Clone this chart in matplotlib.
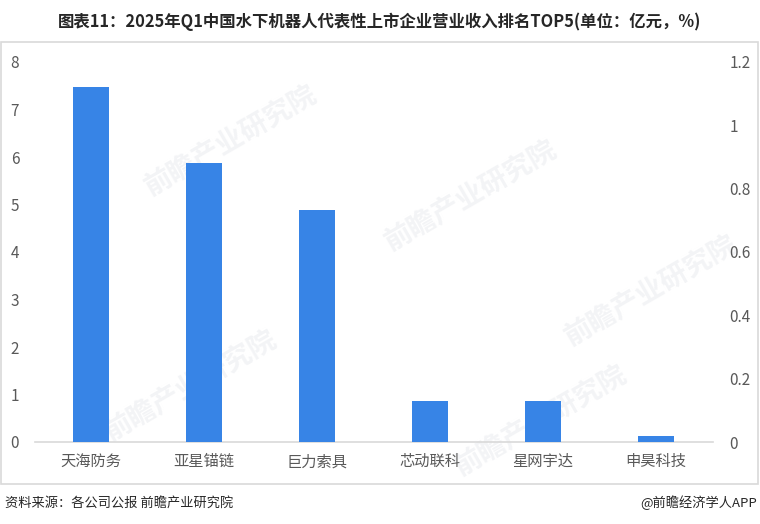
import matplotlib
matplotlib.use("Agg")
import matplotlib.pyplot as plt
from matplotlib.patches import Rectangle

plt.rcParams['font.family'] = ['Noto Sans CJK SC', 'DejaVu Sans']

categories = ["天海防务", "亚星锚链", "巨力索具", "芯动联科", "星网宇达", "申昊科技"]
revenue = [7.47, 5.88, 4.88, 0.87, 0.87, 0.12]
left_ticks = [0, 1, 2, 3, 4, 5, 6, 7, 8]
right_ticks = [0, 0.2, 0.4, 0.6, 0.8, 1.0, 1.2]
right_labels = ["0", "0.2", "0.4", "0.6", "0.8", "1", "1.2"]

title = "图表11：2025年Q1中国水下机器人代表性上市企业营业收入排名TOP5(单位：亿元，%)"
source = "资料来源：各公司公报 前瞻产业研究院"
credit = "@前瞻经济学人APP"
watermark = "前瞻产业研究院"

W, H = 760, 524
fig = plt.figure(figsize=(W / 100, H / 100), dpi=100)
fig.patch.set_facecolor("white")

# outer frame
fig.patches.append(Rectangle((1 / W, 1 - 484 / H), 757 / W, 442 / H,
                             transform=fig.transFigure, fill=False,
                             edgecolor="#D9D9D9", linewidth=1.2))

ax = fig.add_axes([34.5 / W, 1 - 442 / H, 678 / W, 380 / H])
ax.patch.set_alpha(0)
x = list(range(len(categories)))
ax.bar(x, revenue, width=0.32, color="#3784E6", zorder=3)
ax.set_xlim(-0.5, len(categories) - 0.5)
ax.set_ylim(0, 8)
ax.set_yticks(left_ticks)
ax.set_yticklabels([str(t) for t in left_ticks])
ax.set_xticks(x)
ax.set_xticklabels(categories)
for s in ["top", "right", "left"]:
    ax.spines[s].set_visible(False)
ax.spines["bottom"].set_color("#D9D9D9")
ax.spines["bottom"].set_linewidth(1.2)
ax.tick_params(axis="y", length=0, pad=11, labelsize=11, labelcolor="#595959")
ax.tick_params(axis="x", length=0, pad=8, labelsize=11, labelcolor="#595959")

# faint watermarks (beneath bars)
for (wx, wy) in [(230, 140), (470, 195), (650, 290), (190, 385), (540, 420)]:
    ax.text(wx / W, 1 - wy / H, watermark, fontsize=20, fontweight="bold",
            color="#F3F4F6", rotation=30, ha="center", va="center", zorder=1,
            transform=fig.transFigure, clip_on=False)

ax2 = ax.twinx()
ax2.set_ylim(0, 1.2)
ax2.set_yticks(right_ticks)
ax2.set_yticklabels(right_labels)
for s in ["top", "right", "left", "bottom"]:
    ax2.spines[s].set_visible(False)
ax2.tick_params(axis="y", length=0, pad=12, labelsize=11, labelcolor="#595959")

fig.text(0.5, 1 - 22 / H, title, ha="center", va="center", fontsize=11.8,
         fontweight="bold", color="#262626")
fig.text(5 / W, 1 - 503 / H, source, ha="left", va="center", fontsize=9.5,
         color="#262626")
fig.text(757 / W, 1 - 503 / H, credit, ha="right", va="center", fontsize=9.5,
         color="#262626")

fig.savefig("out.png", dpi=100)
